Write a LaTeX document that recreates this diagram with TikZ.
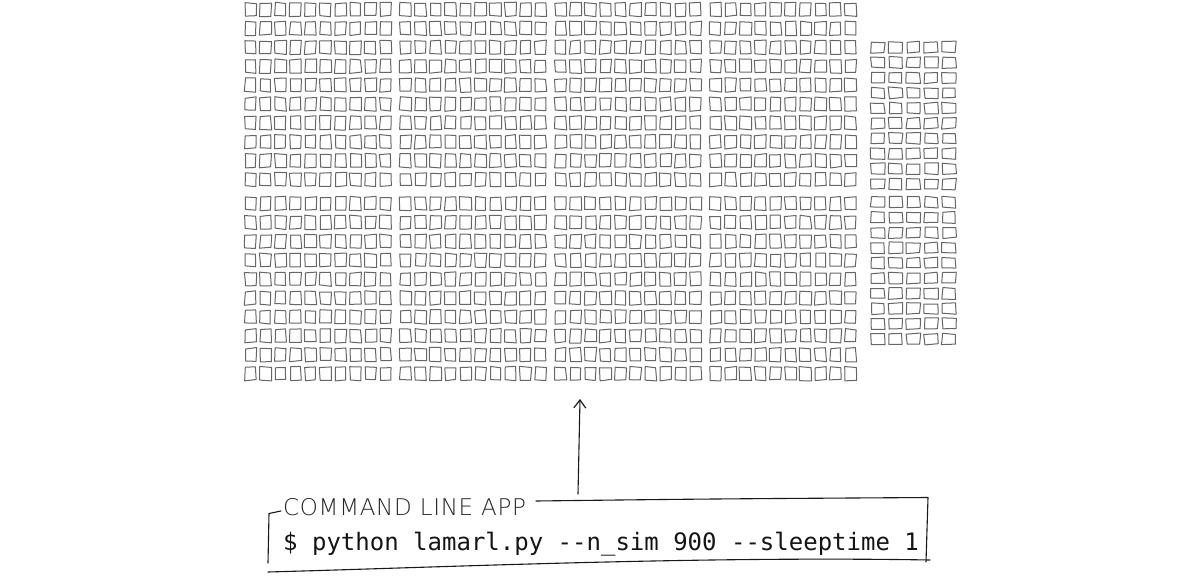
\documentclass[tikz,border=0pt]{standalone}
\usepackage{fontspec}
\setmonofont{DejaVu Sans Mono}
\newfontfamily\handfont[LetterSpace=3]{DejaVu Sans ExtraLight}
\usetikzlibrary{arrows.meta}
\newcommand\sqbox[4]{%
  \draw[sq] ({#1+rand*0.8},{#2+rand*0.8}) -- ({#1+#3+rand*0.8},{#2+rand*0.8}) -- ({#1+#3+rand*0.8},{#2+#4+rand*0.8}) -- ({#1+rand*0.8},{#2+#4+rand*0.8}) -- cycle;}
\begin{document}
\begin{tikzpicture}[x=1pt,y=-1pt,
  sq/.style={draw=black!60, line width=1pt, line join=round},
  pen/.style={draw=black!90, line width=1.1pt, line cap=round, line join=round},
  cmd/.style={font=\ttfamily\fontsize{24}{28}\selectfont, text=black!92, inner sep=0pt},
  hand/.style={font=\handfont\fontsize{23}{26}\selectfont, text=black!85, inner sep=0pt}]
\useasboundingbox (0,0) rectangle (1194,583);
\pgfmathsetseed{7}
% main grid: 4 blocks of 10 columns x 20 rows
\foreach \b in {0,...,3}{
  \foreach \i in {0,...,9}{
    \foreach \yo in {3,197}{
      \foreach \j in {0,...,9}{
        \pgfmathsetmacro\X{245+\b*155+\i*15}
        \pgfmathsetmacro\Y{\yo+\j*18.9}
        \sqbox{\X}{\Y}{11}{13}
      }}}}
% right block: 5 columns x 20 rows
\foreach \i in {0,...,4}{
  \foreach \yo in {42,197}{
    \foreach \j in {0,...,9}{
      \pgfmathsetmacro\X{871+\i*17.8}
      \pgfmathsetmacro\Y{\yo+\j*15.2}
      \sqbox{\X}{\Y}{13.5}{10.5}
    }}}
% command line box
\node[hand, anchor=base west] (lbl) at (283,515) {COMMAND LINE APP};
\node[cmd, anchor=base west] (cmdtext) at (283,550) {\$ python lamarl.py -{}-n\_sim 900 -{}-sleeptime 1};
\coordinate (tk) at (281,511);
\coordinate (tlc) at (269,513.5);
\coordinate (blc) at (268,563);
\coordinate (ts) at (536,501);
\coordinate (trc) at (928,497.5);
\coordinate (brc) at (926,562);
\coordinate (bs) at (268,572);
\coordinate (be) at (930,560);
\draw[pen] (tk) -- (tlc) -- (blc);
\draw[pen] (ts) .. controls (700,499) .. (trc) -- (brc);
\draw[pen] (bs) .. controls (450,567) and (700,556) .. (be);
% arrow
\coordinate (as) at (578,494);
\coordinate (ae) at (580,399);
\draw[pen, -{Straight Barb[length=8pt,width=12pt,line width=1.2pt]}] (as) -- (ae);
\end{tikzpicture}
\end{document}
